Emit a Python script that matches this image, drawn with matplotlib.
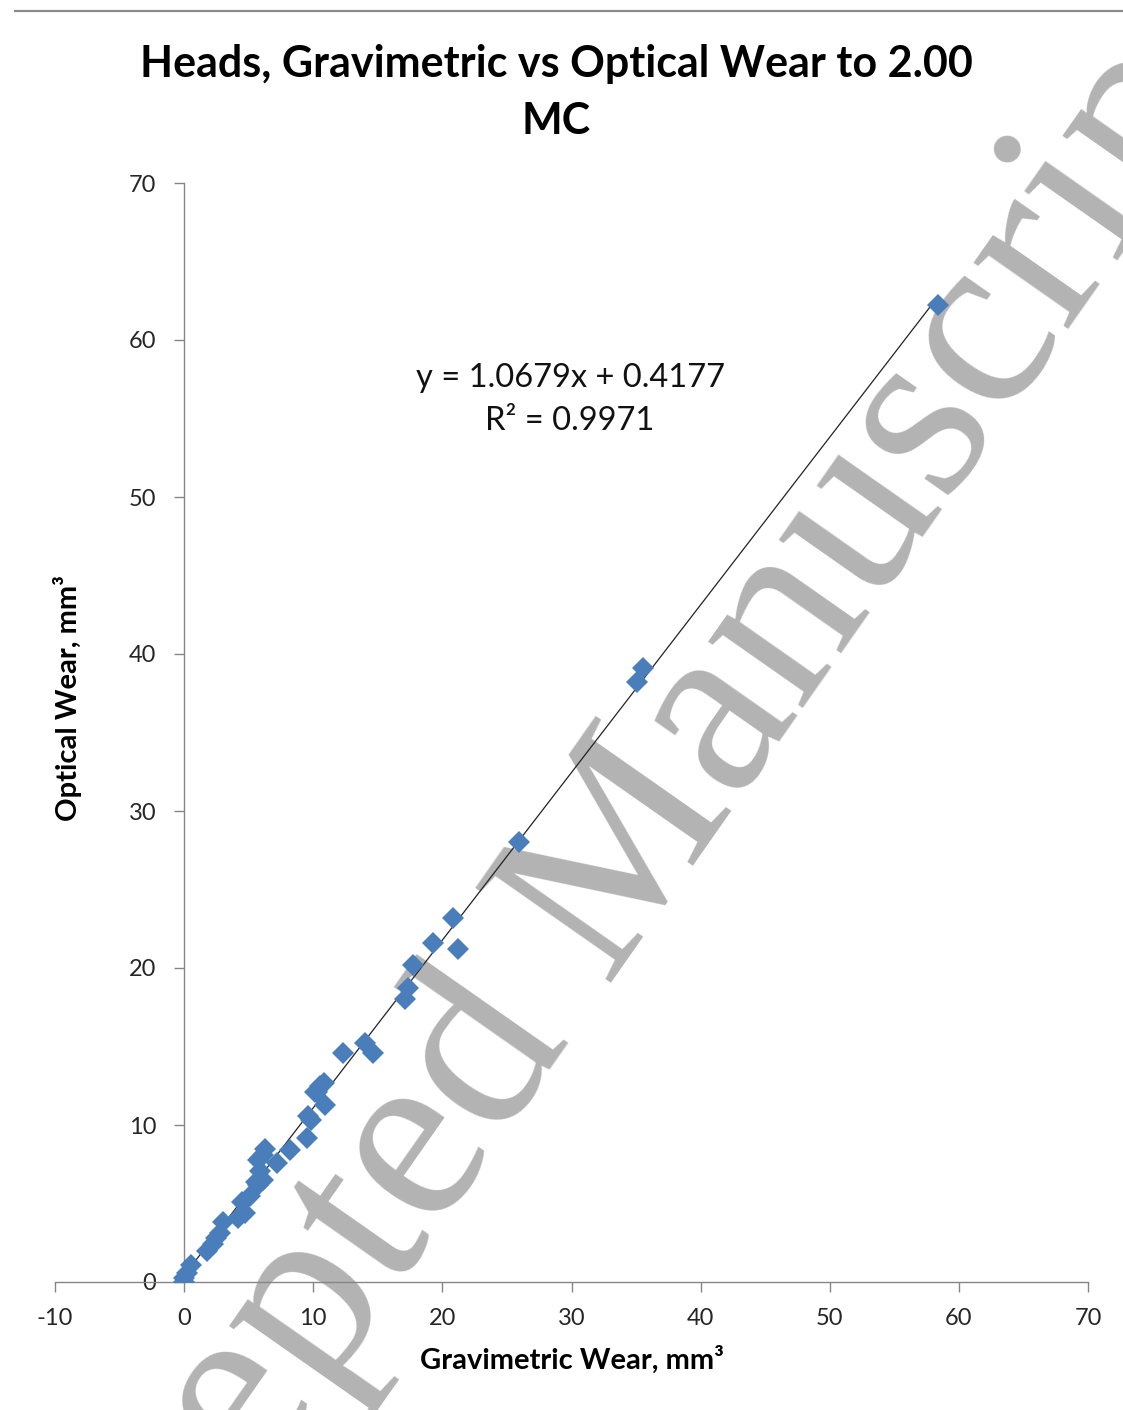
import matplotlib
matplotlib.use("Agg")
import matplotlib.pyplot as plt
from matplotlib.lines import Line2D
import numpy as np

# Data
grav_wear = [0.0, 0.0, 0.2, 0.5, 1.8, 2.2, 2.5, 2.8, 3.0, 4.2, 4.7, 4.5, 5.1, 5.7,
             5.6, 6.1, 5.9, 7.2, 5.7, 8.2, 6.1, 6.3, 9.5, 9.8, 9.6, 10.9, 10.1, 10.5,
             10.3, 10.8, 12.3, 14.0, 14.6, 17.1, 17.3, 17.7, 19.3, 21.2, 20.8, 25.9,
             35.1, 35.5, 58.4]
opt_wear = [0.0, 0.25, 0.6, 1.1, 2.0, 2.4, 2.8, 3.1, 3.8, 4.1, 4.4, 5.1, 5.5, 6.2,
            6.4, 6.5, 7.1, 7.6, 7.8, 8.4, 8.1, 8.5, 9.2, 10.3, 10.6, 11.3, 12.1, 12.5,
            12.1, 12.7, 14.6, 15.2, 14.6, 18.0, 18.7, 20.2, 21.6, 21.2, 23.2, 28.0,
            38.2, 39.1, 62.2]
slope = 1.0679
intercept = 0.4177
r_squared = 0.9971
x_ticks = [-10, 0, 10, 20, 30, 40, 50, 60, 70]
y_ticks = [0, 10, 20, 30, 40, 50, 60, 70]

FONT = ["Lato", "DejaVu Sans"]
plt.rcParams["font.family"] = FONT
plt.rcParams["axes.unicode_minus"] = False

W, H = 1123, 1410
fig = plt.figure(figsize=(W / 100, H / 100), dpi=100)
fig.patch.set_facecolor("white")

# top page rule
fig.add_artist(Line2D([15 / W, 1.0], [1 - 11 / H, 1 - 11 / H], color="#8a8a8a", lw=1.6))

# watermark
fig.text(646 / W, 1 - 934 / H, "Accepted Manuscript", family="Liberation Serif",
         fontsize=182, color="#b3b3b3", rotation=55, rotation_mode="anchor",
         ha="center", va="baseline", zorder=0)

ax = fig.add_axes([55 / W, 1 - 1282 / H, (1088 - 55) / W, (1282 - 183) / H])
ax.set_zorder(1)
ax.patch.set_alpha(0)
ax.set_xlim(-10, 70)
ax.set_ylim(0, 70)

for s in ["top", "right"]:
    ax.spines[s].set_visible(False)
ax.spines["left"].set_position(("data", 0))
for s in ["left", "bottom"]:
    ax.spines[s].set_color("#868686")
    ax.spines[s].set_linewidth(1.0)

ax.set_xticks(x_ticks)
ax.set_yticks(y_ticks)
ax.tick_params(axis="both", direction="out", length=7, width=1.0, color="#868686",
               labelsize=17, labelcolor="#262626")
ax.tick_params(axis="y", pad=13)
ax.tick_params(axis="x", pad=12)

xs = np.array([min(grav_wear), max(grav_wear)])
ax.plot(xs, slope * xs + intercept, color="#222222", lw=0.9, zorder=2)
ax.plot(grav_wear, opt_wear, linestyle="none", marker="D", markersize=11.5,
        color="#4a7ebb", markeredgewidth=0, zorder=3)

fig.text(570 / W, 1 - 378 / H, f"y = {slope:.4f}x + {intercept:.4f}", fontsize=23.5,
         ha="center", va="center", color="#111111")
fig.text(570 / W, 1 - 421 / H, f"R² = {r_squared:.4f}", fontsize=23.5,
         ha="center", va="center", color="#111111")

fig.text(556 / W, 1 - 64 / H, "Heads, Gravimetric vs Optical Wear to 2.00", fontsize=31,
         fontweight="bold", ha="center", va="center")
fig.text(556 / W, 1 - 121 / H, "MC", fontsize=31, fontweight="bold", ha="center", va="center")

fig.text(572 / W, 1 - 1360 / H, "Gravimetric Wear, mm³", fontsize=21, fontweight="bold",
         ha="center", va="center")
fig.text(68 / W, 1 - 698 / H, "Optical Wear, mm³", fontsize=21, fontweight="bold",
         ha="center", va="center", rotation=90)

fig.savefig("out.png", dpi=100)
